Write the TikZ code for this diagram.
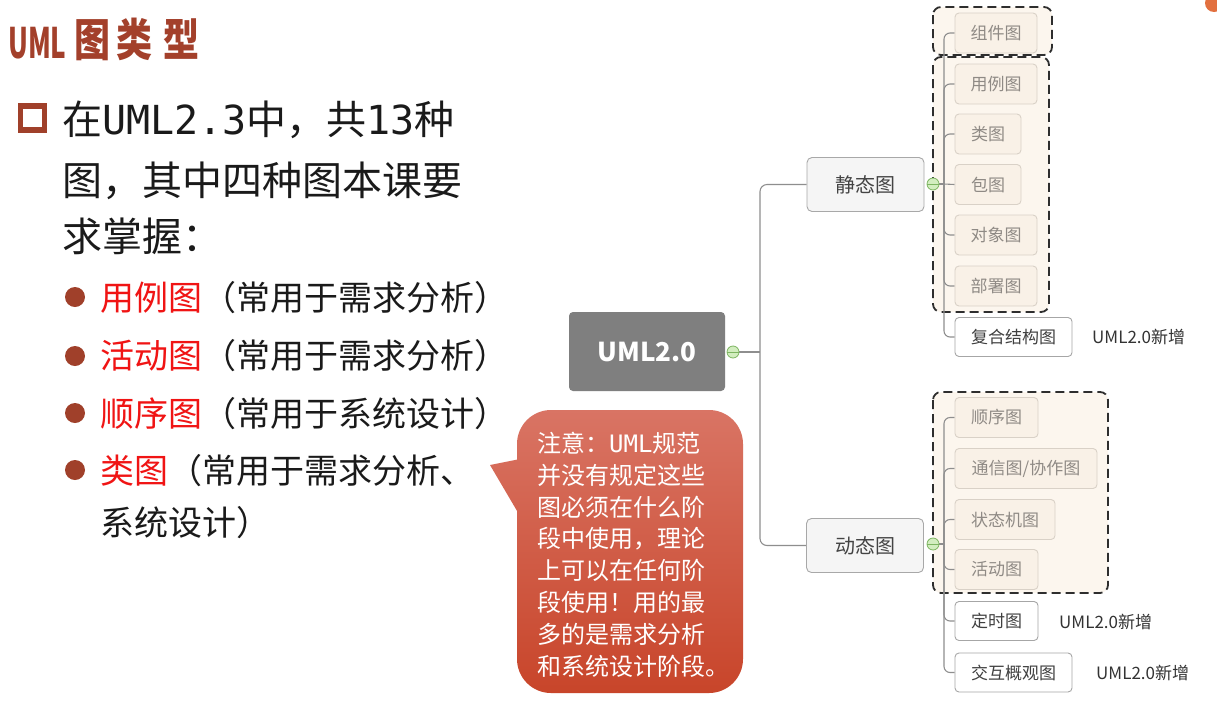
\documentclass[tikz,border=0pt]{standalone}
\usepackage{fontspec}
\setmainfont{Noto Sans CJK SC}
\newfontfamily\monof{DejaVu Sans Mono}
\newcommand\fsz[1]{\fontsize{#1}{#1}\selectfont}

\definecolor{titlered}{HTML}{A3402B}
\definecolor{bulletc}{HTML}{A0402A}
\definecolor{hired}{HTML}{F01414}
\definecolor{bodytext}{HTML}{1A1A1A}
\definecolor{calltop}{HTML}{D97464}
\definecolor{callbot}{HTML}{C8452A}
\definecolor{rootgray}{HTML}{7F7F7F}
\definecolor{linkgray}{HTML}{8E8E8E}
\definecolor{togglebd}{HTML}{7DB561}
\definecolor{togglefill}{HTML}{D2EDBF}
\definecolor{groupbd}{HTML}{2E2E2E}
\definecolor{groupfill}{HTML}{FCF6EE}
\definecolor{inbd}{HTML}{D9D1C7}
\definecolor{infill}{HTML}{F9F1E7}
\definecolor{intext}{HTML}{8F8A85}
\definecolor{outbd}{HTML}{A6A6A6}
\definecolor{outtext}{HTML}{404040}
\definecolor{catbd}{HTML}{A8A8A8}
\definecolor{catfill}{HTML}{F5F5F5}
\definecolor{cattext}{HTML}{444444}
\definecolor{newtext}{HTML}{333333}
\definecolor{dotorange}{HTML}{E2703F}

\pgfdeclarelayer{groups}
\pgfdeclarelayer{links}
\pgfsetlayers{groups,links,main}

\begin{document}
\begin{tikzpicture}[x=1pt,y=-1pt,
  txtA/.style={anchor=base west, inner sep=0pt, text=bodytext, font=\fsz{40}},
  txtB/.style={anchor=base west, inner sep=0pt, text=bodytext, font=\fsz{34}},
  txtC/.style={anchor=base west, inner sep=0pt, text=white, font=\fsz{24}},
  dot/.style={circle, fill=bulletc, minimum size=20pt, inner sep=0pt},
  conn/.style={draw=linkgray, line width=1.1pt},
  toggle/.style={circle, draw=togglebd, fill=togglefill, line width=0.8pt,
    minimum size=12pt, inner sep=0pt,
    path picture={\draw[togglebd, line width=1pt]
      (path picture bounding box.west) -- (path picture bounding box.east);}},
  group/.style={draw=groupbd, line width=1.8pt, dash pattern=on 9pt off 5pt,
    rounded corners=8pt, fill=groupfill},
  inbox/.style={draw=inbd, fill=infill, rounded corners=4pt, line width=0.9pt,
    minimum height=40pt, inner sep=0pt, text=intext, font=\fsz{17}},
  outbox/.style={draw=outbd, fill=white, rounded corners=4pt, line width=0.9pt,
    minimum height=39pt, inner sep=0pt, text=outtext, font=\fsz{17}},
  catbox/.style={draw=catbd, fill=catfill, rounded corners=5pt, line width=0.9pt,
    minimum width=117pt, minimum height=54pt, inner sep=0pt, text=cattext, font=\fsz{20}},
  newnote/.style={anchor=west, text=newtext, font=\fsz{17}, inner sep=0pt}]

\useasboundingbox (0,0) rectangle (1217,702);

\begin{pgfonlayer}{groups}
  \fill[white] (0,0) rectangle (1217,702);
  % dashed groupings behind the leaf boxes
  \draw[group] (933,7) rectangle (1052,55);
  \draw[group] (933,57) rectangle (1049,312);
  \draw[group] (933,392) rectangle (1108,593);
\end{pgfonlayer}

% corner marker
\fill[dotorange] (1214,3) circle (9);

% ---------- title ----------
\node[anchor=base west, inner sep=0pt, text=titlered, font=\bfseries] (title) at (8,56)
  {\raisebox{-2pt}{\scalebox{0.62}[1]{\fsz{42}UML}}\hspace{8pt}\scalebox{0.8}[1]{\fsz{45}图\hspace{8pt}类\hspace{13pt}型}};

% ---------- bullet text ----------
\node[draw=bulletc, line width=5.5pt, minimum size=24pt, inner sep=0pt] (sq) at (32.5,118) {};
\node[txtA] (l1) at (62,134) {在{\monof UML2.3}中，共{\monof 13}种};
\node[txtA] (l2) at (62,195) {图，其中四种图本课要};
\node[txtA] (l3) at (62,251) {求掌握：};

\node[dot] (d1) at (75,297) {};
\node[dot] (d2) at (75,356) {};
\node[dot] (d3) at (75,413) {};
\node[dot] (d4) at (75,470) {};
\node[txtB] (b1) at (100,310) {\textcolor{hired}{用例图}（常用于需求分析）};
\node[txtB] (b2) at (100,368) {\textcolor{hired}{活动图}（常用于需求分析）};
\node[txtB] (b3) at (100,426) {\textcolor{hired}{顺序图}（常用于系统设计）};
\node[txtB] (b4) at (100,483) {\textcolor{hired}{类图}（常用于需求分析、};
\node[txtB] (b5) at (100,535) {系统设计）};

% ---------- callout ----------
\path[shade, top color=calltop, bottom color=callbot]
  [rounded corners=34pt] (517,410) -- (743,410) -- (743,693) -- (517,693) -- cycle
  [sharp corners] (530,533) -- (490,465) -- (530,457) -- cycle;
\node[txtC] (c1) at (537,452) {注意：{\monof UML}规范};
\node[txtC] (c2) at (537,484) {并没有规定这些};
\node[txtC] (c3) at (537,516) {图必须在什么阶};
\node[txtC] (c4) at (537,547) {段中使用，理论};
\node[txtC] (c5) at (537,579) {上可以在任何阶};
\node[txtC] (c6) at (537,611) {段使用！用的最};
\node[txtC] (c7) at (537,643) {多的是需求分析};
\node[txtC] (c8) at (537,675) {和系统设计阶段。};

% ---------- mind map ----------
\node[fill=rootgray, rounded corners=4pt, minimum width=156pt, minimum height=79pt,
  inner sep=0pt, text=white, font=\fsz{26}\bfseries] (root) at (647,351.5) {UML2.0};
\node[toggle] (tr) at (733,352) {};
\coordinate (trunk) at (760,352);

\node[catbox] (static) at (865.5,184.5) {静态图};
\node[catbox] (dyn) at (865,545.5) {动态图};
\node[toggle] (ts) at (933,184) {};
\node[toggle] (td) at (933,544) {};
\coordinate (sbus) at (944,184);
\coordinate (dbus) at (944,544);

% static diagrams
\node[inbox, minimum width=82pt] (s1) at (996,33) {组件图};
\node[inbox, minimum width=82pt] (s2) at (996,84) {用例图};
\node[inbox, minimum width=66pt] (s3) at (988,134) {类图};
\node[inbox, minimum width=66pt] (s4) at (988,184.5) {包图};
\node[inbox, minimum width=82pt] (s5) at (996,235) {对象图};
\node[inbox, minimum width=82pt] (s6) at (996,286) {部署图};
\node[outbox, minimum width=117pt] (s7) at (1013.5,337) {复合结构图};
\node[newnote] (n1) at (1092,337) {UML2.0新增};

% dynamic diagrams
\node[inbox, minimum width=83pt] (e1) at (996.5,417.5) {顺序图};
\node[inbox, minimum width=142pt] (e2) at (1026,468.5) {通信图/协作图};
\node[inbox, minimum width=100pt] (e3) at (1005,519.5) {状态机图};
\node[inbox, minimum width=83pt] (e4) at (996.5,569.5) {活动图};
\node[outbox, minimum width=83pt] (e5) at (996.5,621) {定时图};
\node[newnote] (n2) at (1059,622) {UML2.0新增};
\node[outbox, minimum width=117pt] (e6) at (1013.5,672.5) {交互概观图};
\node[newnote] (n3) at (1096,673) {UML2.0新增};

\begin{pgfonlayer}{links}
  \draw[conn] (tr.east) -- (trunk);
  \draw[conn, rounded corners=7pt] (static.west) -| (trunk) |- (dyn.west);
  \draw[conn] (ts.east) -- (sbus);
  \draw[conn] (td.east) -- (dbus);
  \foreach \n in {s1,s2,s3,s5,s6,s7}
    \draw[conn, rounded corners=6pt] (sbus) |- (\n.west);
  \draw[conn] (sbus) -- (s4.west);
  \foreach \n in {e1,e2,e3,e4,e5,e6}
    \draw[conn, rounded corners=6pt] (dbus) |- (\n.west);
\end{pgfonlayer}

\end{tikzpicture}
\end{document}
